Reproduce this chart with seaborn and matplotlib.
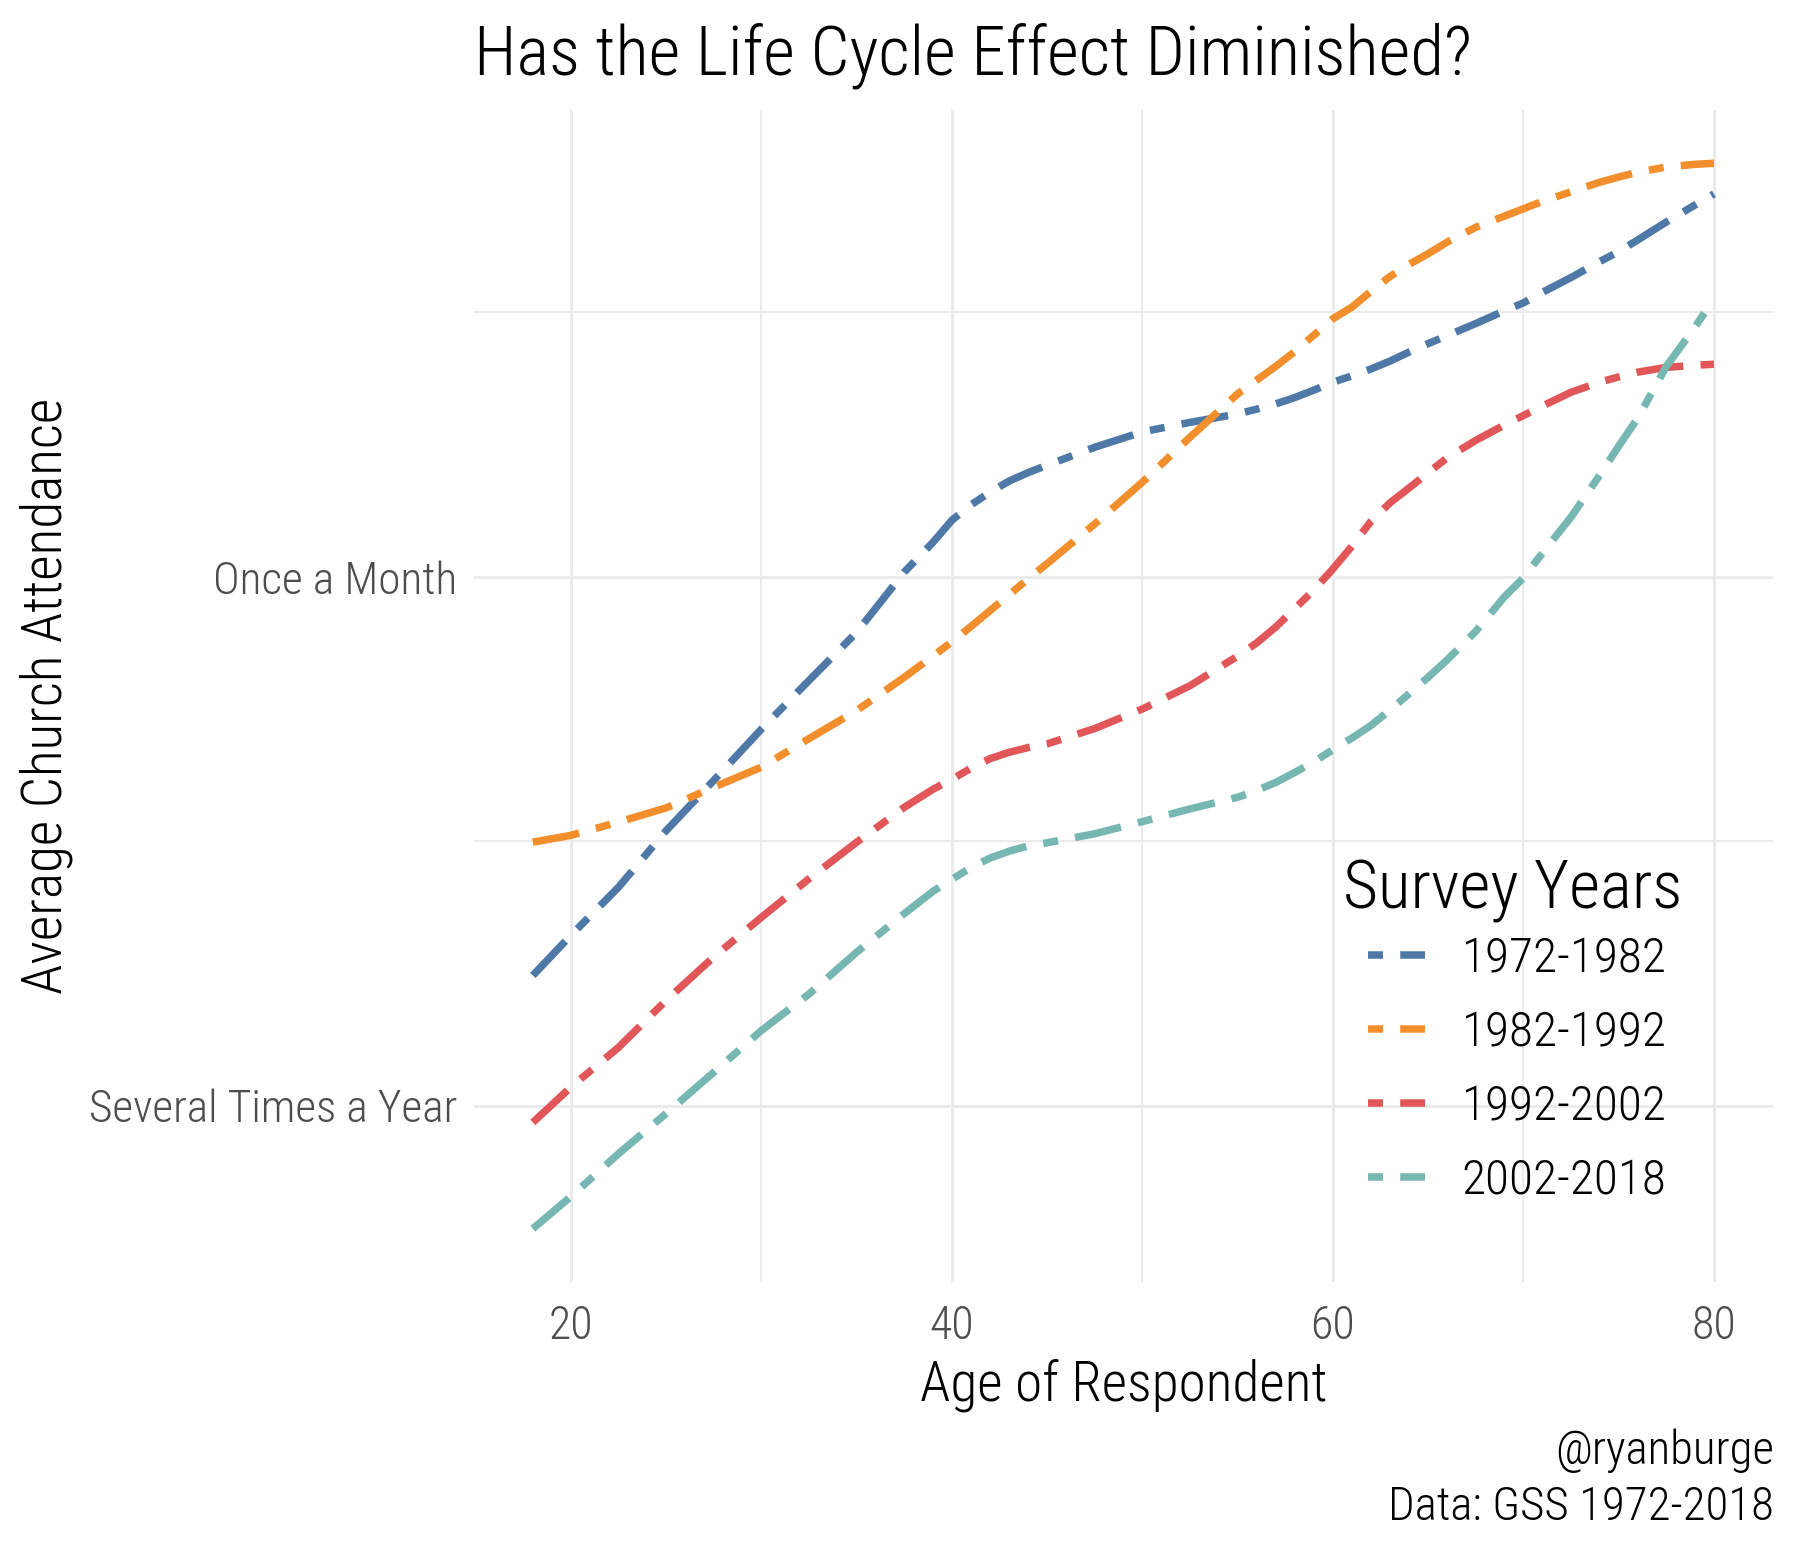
import numpy as np
import pandas as pd
import matplotlib
matplotlib.use('Agg')
import matplotlib.pyplot as plt
import seaborn as sns

# values (denser where they bend)
ages = [18, 20, 22.5, 25, 27.5, 30, 32.5, 35, 37.5, 39, 40, 41, 42, 43, 44, 45,
        47.5, 50, 52.5, 55, 56, 57, 58, 59, 60, 61, 62, 63, 64, 65, 66, 67.5,
        69, 70, 71, 72.5, 74, 75, 76, 77.5, 79, 80]
periods = ['1972-1982', '1982-1992', '1992-2002', '2002-2018']
attend_72_82 = [2.246, 2.322, 2.413, 2.520, 2.615, 2.712, 2.804, 2.895, 3.009, 3.065,
                3.107, 3.136, 3.160, 3.181, 3.197, 3.211, 3.245, 3.274, 3.292, 3.308,
                3.317, 3.327, 3.339, 3.353, 3.368, 3.380, 3.393, 3.408, 3.425, 3.441,
                3.456, 3.479, 3.503, 3.518, 3.538, 3.566, 3.596, 3.615, 3.637, 3.671,
                3.703, 3.724]
attend_82_92 = [2.498, 2.511, 2.536, 2.563, 2.602, 2.640, 2.694, 2.747, 2.810, 2.850,
                2.877, 2.906, 2.936, 2.966, 2.996, 3.025, 3.100, 3.179, 3.264, 3.346,
                3.372, 3.398, 3.426, 3.457, 3.488, 3.510, 3.540, 3.568, 3.591, 3.611,
                3.633, 3.661, 3.682, 3.696, 3.710, 3.728, 3.746, 3.756, 3.765, 3.775,
                3.780, 3.782]
attend_92_02 = [1.968, 2.035, 2.110, 2.199, 2.281, 2.356, 2.429, 2.498, 2.564, 2.598,
                2.617, 2.638, 2.656, 2.668, 2.677, 2.684, 2.713, 2.750, 2.794, 2.850,
                2.875, 2.905, 2.940, 2.975, 3.015, 3.058, 3.105, 3.140, 3.168, 3.197,
                3.225, 3.258, 3.287, 3.305, 3.323, 3.349, 3.368, 3.378, 3.387, 3.396,
                3.400, 3.402]
attend_02_18 = [1.767, 1.828, 1.909, 1.985, 2.063, 2.142, 2.211, 2.290, 2.363, 2.405,
                2.428, 2.450, 2.468, 2.481, 2.491, 2.497, 2.514, 2.537, 2.561, 2.583,
                2.596, 2.611, 2.630, 2.650, 2.673, 2.695, 2.719, 2.748, 2.779, 2.810,
                2.843, 2.897, 2.962, 2.998, 3.045, 3.113, 3.192, 3.247, 3.300, 3.398,
                3.472, 3.526]
y_ticks = [2, 3]
y_tick_labels = ['Several Times a Year', 'Once a Month']
x_ticks = [20, 40, 60, 80]

colors = ['#4E79A7', '#F28E2B', '#E15759', '#76B7B2']

series = [attend_72_82, attend_82_92, attend_92_02, attend_02_18]
df = pd.concat([pd.DataFrame({'age': ages, 'attend': s, 'period': p})
                for p, s in zip(periods, series)], ignore_index=True)

sns.set_style('white')
plt.rcParams['font.family'] = ['Liberation Sans Narrow', 'Roboto Condensed', 'DejaVu Sans']
plt.rcParams['font.weight'] = 'light'
plt.rcParams['text.color'] = 'black'

W, H = 1796, 1549
fig = plt.figure(figsize=(W / 200, H / 200), dpi=200)
ax = fig.add_axes([473.8 / W, 1 - 1282 / H, (1773 - 473.8) / W, (1282 - 110) / H])

dash = (6.3, 2.3, 2.0, 2.3)
sns.lineplot(data=df, x='age', y='attend', hue='period', style='period',
             palette=dict(zip(periods, colors)), dashes={p: dash for p in periods},
             linewidth=2.7, errorbar=None, ax=ax)

# ggplot-like 5% expansion
xr = max(ages) - min(ages)
ax.set_xlim(min(ages) - 0.05 * xr, max(ages) + 0.05 * xr)
ymin = min(min(s) for s in series)
ymax = max(max(s) for s in series)
yr = ymax - ymin
ax.set_ylim(ymin - 0.05 * yr, ymax + 0.05 * yr)

ax.set_xticks(x_ticks)
ax.set_xticks([30, 50, 70], minor=True)
ax.set_yticks(y_ticks, y_tick_labels)
ax.set_yticks([2.5, 3.5], minor=True)
ax.grid(which='major', color='#EBEBEB', linewidth=1.1)
ax.grid(which='minor', color='#EBEBEB', linewidth=0.7)
ax.set_axisbelow(True)
ax.tick_params(which='both', length=0, labelcolor='#4D4D4D')
ax.tick_params(axis='y', pad=6, labelsize=16.3)
ax.tick_params(axis='x', pad=8, labelsize=16.5)
for sp in ax.spines.values():
    sp.set_visible(False)
ax.set_xlabel('')
ax.set_ylabel('')

fig.text(473.8 / W, 1 - 74.5 / H, 'Has the Life Cycle Effect Diminished?',
         ha='left', va='baseline', fontsize=24.9)
fig.text(46 / W, 1 - 696 / H, 'Average Church Attendance', rotation=90,
         ha='center', va='center', fontsize=19.9)
fig.text(1123.4 / W, 1 - 1400 / H, 'Age of Respondent', ha='center', va='baseline', fontsize=19.9)
fig.text(1774 / W, 1 - 1464 / H, '@ryanburge', ha='right', va='baseline', fontsize=16.9)
fig.text(1774 / W, 1 - 1520 / H, 'Data: GSS 1972-2018', ha='right', va='baseline', fontsize=16.9)

sns.move_legend(ax, loc='upper left', bbox_to_anchor=(1343 / W, 1 - 858 / H),
                bbox_transform=fig.transFigure, frameon=False, title='Survey Years',
                fontsize=17.8, title_fontsize=24.3, alignment='left', borderpad=0,
                borderaxespad=0, handlelength=1.15, handletextpad=0.74, labelspacing=0.555)
leg = ax.get_legend()
# indent the keys under the title
leg._legend_handle_box.pad = 9.0
leg._legend_box.sep = 4.8 - 9.0
for h in leg.get_lines():
    h.set_dashes((2.0, 2.3, 6.3, 2.3))

fig.savefig('out.png', dpi=200)
